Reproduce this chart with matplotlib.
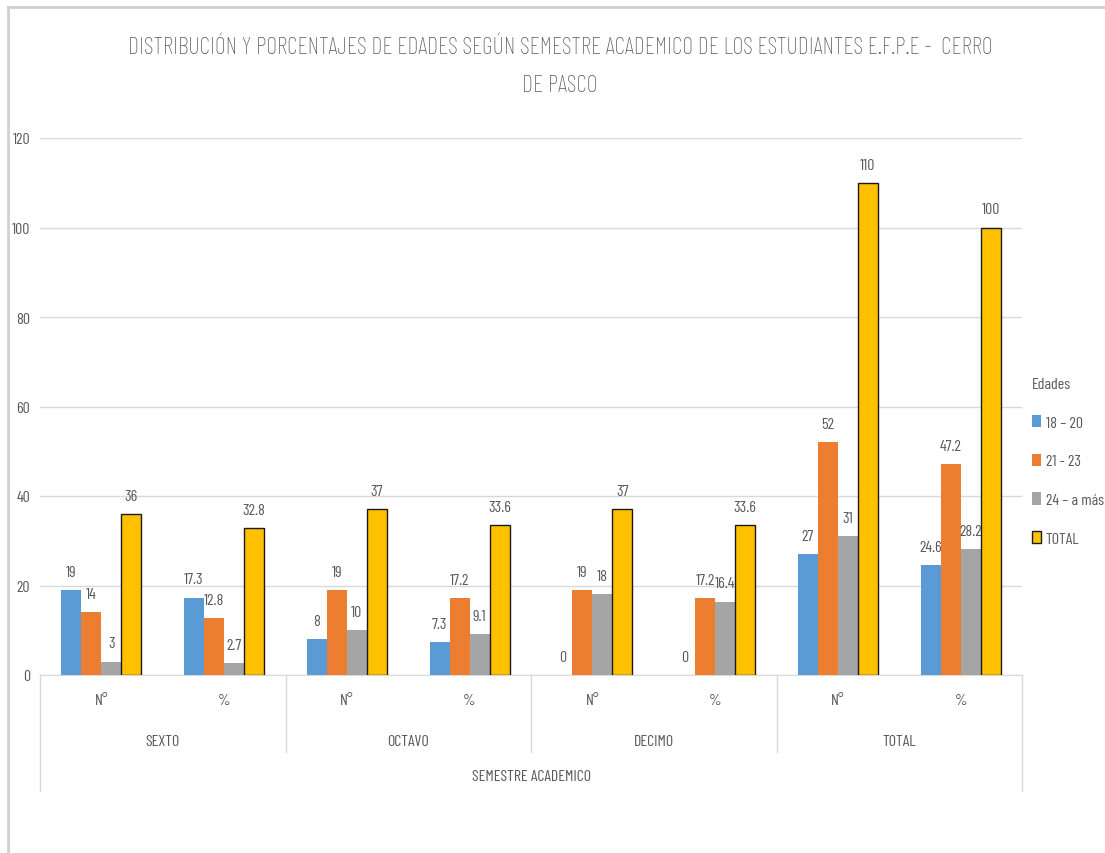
import matplotlib
matplotlib.use("Agg")
import matplotlib.pyplot as plt
import numpy as np
from matplotlib import font_manager
from matplotlib.lines import Line2D

# --- data ---
semestres = ["SEXTO", "OCTAVO", "DECIMO", "TOTAL"]
sub_labels = ["N°", "%"]
series_names = ["18 – 20", "21 - 23", "24 – a más", "TOTAL"]
edad_18_20 = [19, 17.3, 8, 7.3, 0, 0, 27, 24.6]
edad_21_23 = [14, 12.8, 19, 17.2, 19, 17.2, 52, 47.2]
edad_24_mas = [3, 2.7, 10, 9.1, 18, 16.4, 31, 28.2]
total = [36, 32.8, 37, 33.6, 37, 33.6, 110, 100]

colors = ["#5B9BD5", "#ED7D31", "#A5A5A5", "#FFC000"]
gray_txt = "#595959"
grid_col = "#D9D9D9"

# narrow font, close to the squeezed Calibri of the original
installed = {f.name for f in font_manager.fontManager.ttflist}
family = "Barlow Condensed" if "Barlow Condensed" in installed else "DejaVu Sans"
plt.rcParams["font.family"] = [family, "DejaVu Sans"]

W, H = 1105, 854
fig = plt.figure(figsize=(W / 100, H / 100), dpi=100)


def fx(px):
    return px / W


def fy(py):
    return 1 - py / H


# chart frame
fig.add_artist(Line2D([fx(8), 1], [fy(8), fy(8)], color="#D0D0D0", lw=2))
fig.add_artist(Line2D([fx(8), fx(8)], [fy(8), 0], color="#D0D0D0", lw=2))

ax = fig.add_axes([fx(40), fy(676), fx(1022) - fx(40), fy(139) - fy(676)])

x = np.arange(len(edad_18_20))
width = 0.163
all_series = [edad_18_20, edad_21_23, edad_24_mas, total]
for i, (vals, name) in enumerate(zip(all_series, series_names)):
    edge = "#1a1a1a" if i == 3 else "none"
    bars = ax.bar(x + (i - 1.5) * width, vals, width, color=colors[i],
                  edgecolor=edge, linewidth=1.0 if i == 3 else 0, label=name, zorder=3)
    ax.bar_label(bars, labels=[f"{v:g}" for v in vals], padding=8,
                 fontsize=11.5, color=gray_txt)

ax.set_xlim(-0.5, len(x) - 0.5)
ax.set_ylim(0, 120)
ax.set_yticks(np.arange(0, 121, 20))
ax.yaxis.grid(True, color=grid_col, linewidth=1, zorder=0)
ax.set_axisbelow(True)
ax.tick_params(axis="y", length=0, pad=7, labelsize=11.5, labelcolor=gray_txt)
ax.tick_params(axis="x", length=0, labelbottom=False)
for s in ["top", "right", "left"]:
    ax.spines[s].set_visible(False)
ax.spines["bottom"].set_color(grid_col)

# hierarchical category axis
tr = ax.get_xaxis_transform()
ax_h = 676 - 139


def ay(py):
    return (676 - py) / ax_h


for i in range(len(x)):
    ax.text(i, ay(701), sub_labels[i % 2], transform=tr, ha="center", va="center",
            fontsize=11.5, color=gray_txt)
for j, sem in enumerate(semestres):
    ax.text(2 * j + 0.5, ay(742), sem, transform=tr, ha="center", va="center",
            fontsize=11.5, color=gray_txt)
ax.text(3.5, ay(777), "SEMESTRE ACADEMICO", transform=tr, ha="center", va="center",
        fontsize=11.5, color=gray_txt)
for j in range(1, len(semestres)):
    ax.add_line(Line2D([2 * j - 0.5] * 2, [0, ay(753)], transform=tr, color=grid_col,
                       lw=1, clip_on=False))
for xe in [-0.5, len(x) - 0.5]:
    ax.add_line(Line2D([xe] * 2, [0, ay(792)], transform=tr, color=grid_col,
                       lw=1, clip_on=False))

fig.text(fx(560), fy(48), "DISTRIBUCIÓN Y PORCENTAJES DE EDADES SEGÚN SEMESTRE ACADEMICO DE LOS ESTUDIANTES E.F.P.E -  CERRO",
         ha="center", va="center", fontsize=17.2, color=gray_txt, weight="light")
fig.text(fx(560), fy(86), "DE PASCO", ha="center", va="center", fontsize=17.2,
         color=gray_txt, weight="light")

leg = fig.legend(loc="upper left", bbox_to_anchor=(fx(1029), fy(375)), frameon=False,
                 title="Edades", fontsize=11.5, title_fontsize=11.5, handlelength=0.55,
                 handleheight=0.8, handletextpad=0.3, labelspacing=1.5, borderaxespad=0,
                 borderpad=0.2, alignment="left")
leg.get_title().set_color(gray_txt)
for t in leg.get_texts():
    t.set_color(gray_txt)

fig.savefig("out.png", dpi=100)
